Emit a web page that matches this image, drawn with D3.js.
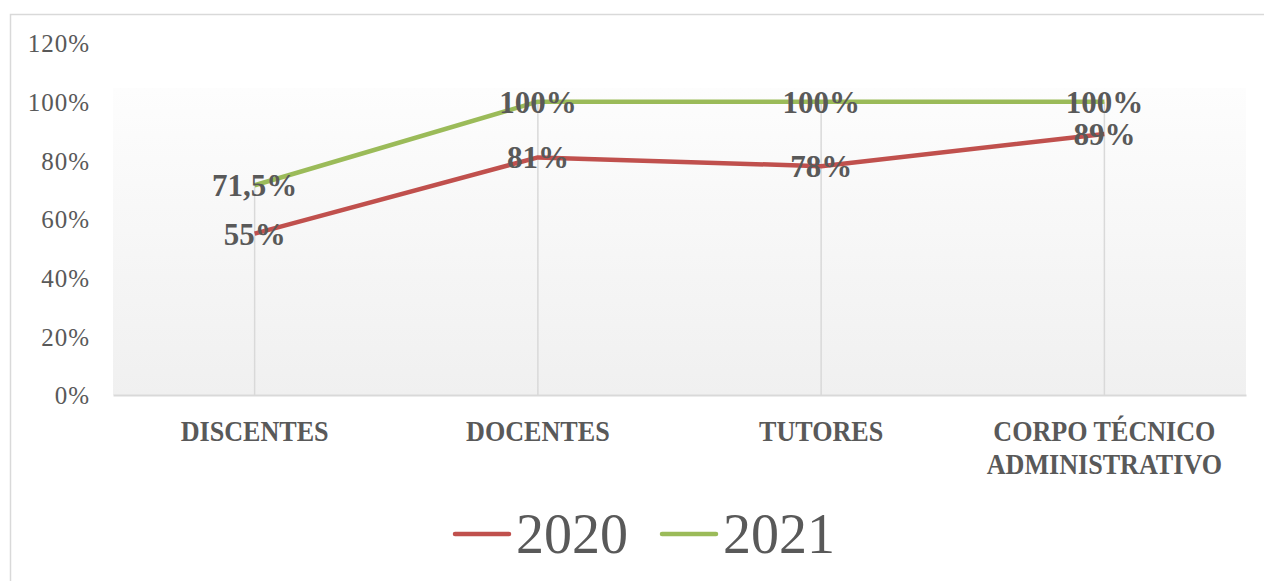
<!DOCTYPE html>
<html>
<head>
<meta charset="utf-8">
<script src="https://d3js.org/d3.v7.min.js"></script>
<style>
  body { margin: 0; background: #fff; }
  text { font-family: "Liberation Serif", "DejaVu Serif", serif; fill: #595959; }
</style>
</head>
<body>
<svg id="chart" width="1264" height="581"></svg>
<script>
// data
const categories = ["DISCENTES", "DOCENTES", "TUTORES", "CORPO TÉCNICO|ADMINISTRATIVO"];
const values2020 = [55, 81, 78, 89];
const values2021 = [71.5, 100, 100, 100];
const labels2020 = ["55%", "81%", "78%", "89%"];
const labels2021 = ["71,5%", "100%", "100%", "100%"];
const yTicks = [0, 20, 40, 60, 80, 100, 120];
const seriesNames = ["2020", "2021"];
const colors = ["#c0504d", "#9bbb59"];

const svg = d3.select("#chart");

// outer border
svg.append("rect")
  .attr("x", 10.5).attr("y", 14.5)
  .attr("width", 1270).attr("height", 600)
  .attr("fill", "#fff").attr("stroke", "#d9d9d9").attr("stroke-width", 1.5);

const plotLeft = 113, plotRight = 1246, plotTop = 43, plotBottom = 395;

const x = d3.scaleBand().domain(categories).range([plotLeft, plotRight]);
const y = d3.scaleLinear().domain([0, 120]).range([plotBottom, plotTop]);

// plot-area gradient
const grad = svg.append("defs").append("linearGradient")
  .attr("id", "bg").attr("x1", 0).attr("y1", 0).attr("x2", 0).attr("y2", 1);
grad.append("stop").attr("offset", "0%").attr("stop-color", "#fdfdfd");
grad.append("stop").attr("offset", "100%").attr("stop-color", "#f0f0f0");

svg.append("rect")
  .attr("x", plotLeft).attr("y", 88)
  .attr("width", plotRight - plotLeft).attr("height", plotBottom - 88)
  .attr("fill", "url(#bg)");

// y axis labels
const yAxis = d3.axisLeft(y).tickValues(yTicks).tickSize(0).tickPadding(0)
  .tickFormat(d => d + "%");
const gy = svg.append("g").attr("transform", "translate(90,0)").call(yAxis);
gy.select(".domain").remove();
gy.selectAll("text")
  .style("font-family", '"Liberation Serif", serif')
  .style("font-size", "25px").attr("fill", "#5f5f5f")
  .attr("letter-spacing", "1px")
  .attr("dy", "0.35em");

// drop lines
const cx = c => x(c) + x.bandwidth() / 2;
svg.append("g").selectAll("line")
  .data(categories)
  .join("line")
  .attr("x1", cx).attr("x2", cx)
  .attr("y1", (c, i) => y(Math.max(values2020[i], values2021[i])))
  .attr("y2", plotBottom)
  .attr("stroke", "#d9d9d9").attr("stroke-width", 1.5);

// x axis
const xAxis = d3.axisBottom(x).tickSize(0).tickFormat("");
const gx = svg.append("g").attr("transform", `translate(0,${plotBottom})`).call(xAxis);
gx.select(".domain").attr("stroke", "#d9d9d9").attr("stroke-width", 2);

// category labels
svg.append("g").selectAll("text")
  .data(categories)
  .join("text")
  .attr("x", cx).attr("y", 441)
  .attr("text-anchor", "middle")
  .style("font-weight", "bold").style("font-size", "30px")
  .each(function(c) {
    const parts = c.split("|");
    const t = d3.select(this);
    parts.forEach((p, j) => {
      t.append("tspan").attr("x", cx(c)).attr("dy", j === 0 ? 0 : 33).text(p);
    });
  })
  .attr("transform", c => `translate(${cx(c)},0) scale(0.87,1) translate(${-cx(c)},0)`);

// lines
const line = d3.line()
  .x((d, i) => cx(categories[i]))
  .y(d => y(d));

[values2020, values2021].forEach((vals, s) => {
  svg.append("path")
    .datum(vals)
    .attr("d", line)
    .attr("fill", "none")
    .attr("stroke", colors[s])
    .attr("stroke-width", 4.5)
    .attr("stroke-linejoin", "round");
});

// data labels
[[values2020, labels2020], [values2021, labels2021]].forEach(([vals, labs]) => {
  svg.append("g").selectAll("text")
    .data(vals)
    .join("text")
    .attr("x", (d, i) => cx(categories[i]))
    .attr("y", d => y(d))
    .attr("dy", "0.35em")
    .attr("text-anchor", "middle")
    .style("font-weight", "bold").style("font-size", "31px")
    .text((d, i) => labs[i]);
});

// legend
const legend = svg.append("g");
const legendX = [455, 662];
seriesNames.forEach((name, i) => {
  legend.append("line")
    .attr("x1", legendX[i]).attr("x2", legendX[i] + 54)
    .attr("y1", 534).attr("y2", 534)
    .attr("stroke", colors[i]).attr("stroke-width", 4.5)
    .attr("stroke-linecap", "round");
  legend.append("text")
    .attr("x", legendX[i] + 61).attr("y", 553)
    .style("font-size", "56px")
    .text(name);
});
</script>
</body>
</html>
